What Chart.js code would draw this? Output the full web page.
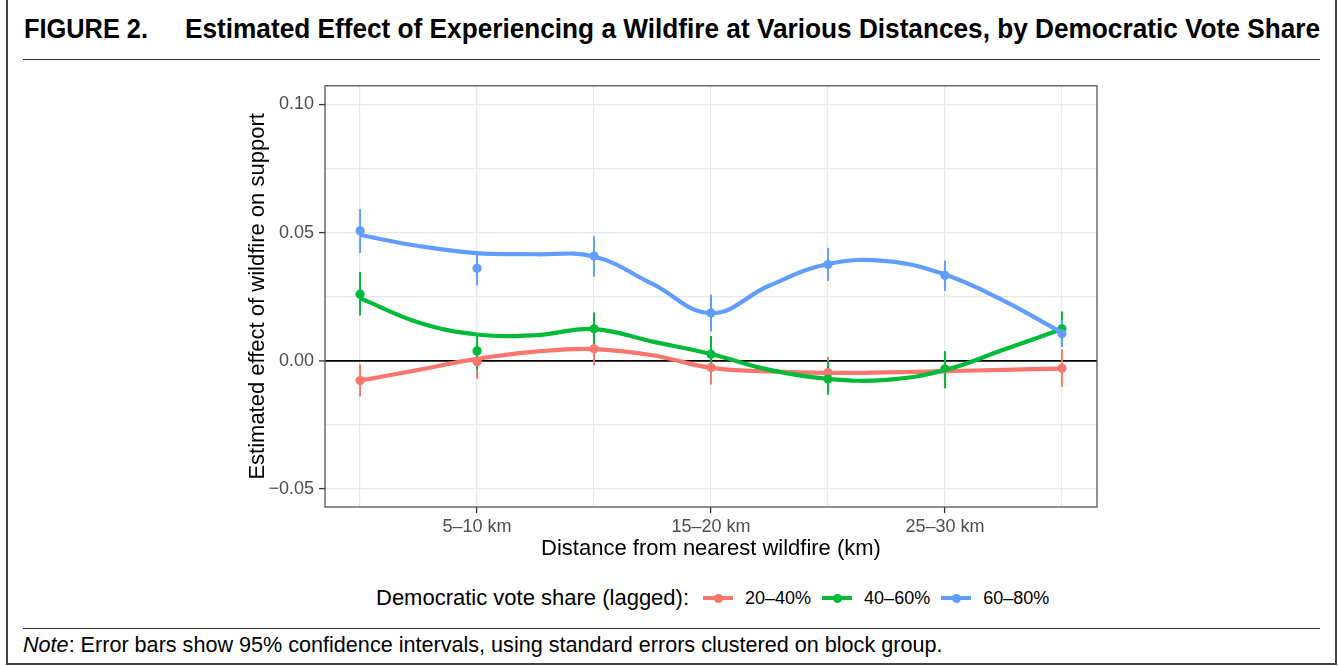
<!DOCTYPE html>
<html>
<head>
<meta charset="utf-8">
<script src="https://cdn.jsdelivr.net/npm/chart.js@4.4.1/dist/chart.umd.min.js"></script>
<style>
html,body{margin:0;padding:0;background:#fff;}
body{width:1340px;height:666px;position:relative;overflow:hidden;font-family:"Liberation Sans",Arial,Helvetica,sans-serif;color:#000;}
#frame{position:absolute;left:6px;top:-6px;width:1331px;height:671px;border:2px solid #444;box-sizing:border-box;}
.rule{position:absolute;left:23px;width:1297px;height:0;border-top:1.6px solid #333;}
.ttl{position:absolute;top:16px;font-weight:bold;font-size:27px;line-height:27px;white-space:nowrap;transform-origin:0 0;}
#chartBox{position:absolute;left:0;top:70px;width:1340px;height:500px;}
#legend{position:absolute;left:376px;top:586px;height:24px;display:flex;align-items:center;white-space:nowrap;}
#legend .lt{font-size:22px;margin-right:14px;}
#legend .key{position:relative;width:30px;height:24px;margin-right:12px;}
#legend .key .bar{position:absolute;left:0;top:10px;width:30px;height:4px;}
#legend .key .dot{position:absolute;left:10.5px;top:7.5px;width:9px;height:9px;border-radius:50%;}
#legend .lab{font-size:18px;margin-right:11px;}
#note{position:absolute;left:23px;top:636px;font-size:19px;line-height:19px;white-space:nowrap;}
</style>
</head>
<body>
<div id="frame"></div>
<div class="ttl" id="t1">FIGURE 2.</div>
<div class="ttl" id="t2">Estimated Effect of Experiencing a Wildfire at Various Distances, by Democratic Vote Share</div>
<div class="rule" style="top:59px"></div>
<div id="chartBox"><canvas id="c"></canvas></div>
<div id="legend"></div>
<div class="rule" style="top:628px"></div>
<div id="note"><i>Note</i>: Error bars show 95% confidence intervals, using standard errors clustered on block group.</div>
<script>
// ---------- data ----------
const xPositions = [1, 2, 3, 4, 5, 6, 7];
const xTickLabels = ['', '5–10 km', '', '15–20 km', '', '25–30 km', ''];
const yMajorTicks = [-0.05, 0, 0.05, 0.10];
const yTickLabels = ['−0.05', '0.00', '0.05', '0.10'];
const yMinorTicks = [-0.025, 0.025, 0.075];

const seriesNames = ['20–40%', '40–60%', '60–80%'];
const seriesColors = ['#F8766D', '#00BA38', '#619CFF'];

// point estimates
const est20_40 = [-0.0077, -0.0003, 0.0047, -0.0026, -0.0046, -0.0031, -0.0029];
const est40_60 = [0.0260, 0.0039, 0.0125, 0.0026, -0.0071, -0.0032, 0.0125];
const est60_80 = [0.0508, 0.0361, 0.0409, 0.0187, 0.0376, 0.0334, 0.0106];
// 95% CI lower / upper
const lo20_40 = [-0.0139, -0.0070, -0.0017, -0.0092, -0.0116, -0.0100, -0.0101];
const hi20_40 = [-0.0014, 0.0065, 0.0110, 0.0039, 0.0016, 0.0036, 0.0045];
const lo40_60 = [0.0177, -0.0035, 0.0063, -0.0045, -0.0132, -0.0107, 0.0058];
const hi40_60 = [0.0347, 0.0100, 0.0189, 0.0097, 0.0000, 0.0038, 0.0193];
const lo60_80 = [0.0421, 0.0294, 0.0329, 0.0115, 0.0312, 0.0273, 0.0054];
const hi60_80 = [0.0592, 0.0419, 0.0486, 0.0258, 0.0441, 0.0392, 0.0159];

// smoothed (loess) curves read at half-steps
const smoothX = [1, 1.5, 2, 2.5, 3, 3.5, 4, 4.5, 5, 5.5, 6, 6.5, 7];
const smooth20_40 = [-0.0077, -0.0035, 0.0008, 0.0036, 0.0046, 0.0022, -0.0027, -0.0041, -0.0047, -0.0045, -0.0040, -0.0035, -0.0030];
const smooth40_60 = [0.0245, 0.0150, 0.0103, 0.0100, 0.0124, 0.0075, 0.0027, -0.0035, -0.0070, -0.0074, -0.0036, 0.0043, 0.0124];
const smooth60_80 = [0.0491, 0.0448, 0.0420, 0.0416, 0.0407, 0.0300, 0.0186, 0.0294, 0.0378, 0.0389, 0.0337, 0.0235, 0.0110];

const estimates = [est20_40, est40_60, est60_80];
const lows = [lo20_40, lo40_60, lo60_80];
const highs = [hi20_40, hi40_60, hi60_80];
const smooths = [smooth20_40, smooth40_60, smooth60_80];

// ---------- titles ----------
function fitX(el, left, right) {
  const w = el.getBoundingClientRect().width;
  el.style.left = left + 'px';
  el.style.transform = 'scaleX(' + ((right - left) / w) + ')';
}
fitX(document.getElementById('t1'), 24, 148);
fitX(document.getElementById('t2'), 185, 1320);
(function () {
  const n = document.getElementById('note');
  const w = n.getBoundingClientRect().width;
  const fs = 19 * 920 / w;
  n.style.fontSize = fs + 'px';
  n.style.lineHeight = fs + 'px';
  n.style.top = (652 - 0.8465 * fs) + 'px';
})();

// ---------- legend ----------
(function () {
  const lg = document.getElementById('legend');
  let h = '<span class="lt">Democratic vote share (lagged):</span>';
  seriesNames.forEach((n, i) => {
    h += '<span class="key"><span class="bar" style="background:' + seriesColors[i] + '"></span><span class="dot" style="background:' + seriesColors[i] + '"></span></span><span class="lab">' + n + '</span>';
  });
  lg.innerHTML = h;
})();

// ---------- chart ----------
const FONT = "'Liberation Sans', Arial, Helvetica, sans-serif";
Chart.defaults.font.family = FONT;

const datasets = [];
// smooth lines (drawn on top)
smooths.forEach((s, i) => {
  datasets.push({
    type: 'line',
    data: smoothX.map((x, k) => ({ x: x, y: s[k] })),
    borderColor: seriesColors[i],
    backgroundColor: seriesColors[i],
    borderWidth: 4.2,
    pointRadius: 0,
    tension: 0.4,
    fill: false,
    order: 3 - i
  });
});
// points
estimates.forEach((e, i) => {
  datasets.push({
    type: 'line',
    showLine: false,
    data: xPositions.map((x, k) => ({ x: x, y: e[k] })),
    borderColor: seriesColors[i],
    backgroundColor: seriesColors[i],
    pointRadius: 4.6,
    pointBorderWidth: 0,
    order: 12 - i
  });
});

const errorBarPlugin = {
  id: 'errorBars',
  beforeDatasetsDraw(chart) {
    const ctx = chart.ctx, xs = chart.scales.x, ys = chart.scales.y;
    ctx.save();
    ctx.lineWidth = 2;
    lows.forEach((lo, i) => {
      ctx.strokeStyle = seriesColors[i];
      xPositions.forEach((x, k) => {
        const px = xs.getPixelForValue(x);
        ctx.beginPath();
        ctx.moveTo(px, ys.getPixelForValue(lo[k]));
        ctx.lineTo(px, ys.getPixelForValue(highs[i][k]));
        ctx.stroke();
      });
    });
    ctx.restore();
  },
  afterDraw(chart) {
    const a = chart.chartArea, ctx = chart.ctx;
    ctx.save();
    ctx.strokeStyle = '#555';
    ctx.lineWidth = 1.3;
    ctx.strokeRect(a.left, a.top, a.right - a.left, a.bottom - a.top);
    ctx.restore();
  }
};

const isMajorY = v => yMajorTicks.some(t => Math.abs(t - v) < 1e-9);

new Chart(document.getElementById('c'), {
  type: 'line',
  data: { datasets: datasets },
  plugins: [errorBarPlugin],
  options: {
    responsive: true,
    maintainAspectRatio: false,
    animation: false,
    events: [],
    layout: { padding: { left: 245, right: 243, top: 12, bottom: 8 } },
    plugins: { legend: { display: false }, tooltip: { enabled: false } },
    scales: {
      x: {
        type: 'linear',
        min: 0.7,
        max: 7.3,
        afterBuildTicks: s => { s.ticks = xPositions.map(v => ({ value: v })); },
        afterFit: s => { s.height = 55; },
        border: { display: false },
        grid: {
          color: '#e8e8e8',
          lineWidth: 1.2,
          tickLength: 6,
          tickColor: c => (xTickLabels[xPositions.indexOf(c.tick.value)] ? '#333' : 'rgba(0,0,0,0)'),
          tickWidth: 1.3
        },
        ticks: {
          autoSkip: false,
          maxRotation: 0,
          padding: 3,
          color: '#4d4d4d',
          font: { size: 18 },
          callback: (v) => xTickLabels[xPositions.indexOf(v)] || ''
        },
        title: {
          display: true,
          text: 'Distance from nearest wildfire (km)',
          color: '#000',
          font: { size: 22 },
          padding: 0
        }
      },
      y: {
        type: 'linear',
        min: -0.057,
        max: 0.1073,
        afterBuildTicks: s => {
          s.ticks = yMajorTicks.concat(yMinorTicks).sort((a, b) => a - b).map(v => ({ value: v }));
        },
        afterFit: s => { s.width = 80; },
        border: { display: false },
        grid: {
          color: c => (Math.abs(c.tick.value) < 1e-9 ? '#000' : '#e8e8e8'),
          lineWidth: c => (Math.abs(c.tick.value) < 1e-9 ? 1.8 : 1.2),
          tickLength: 6,
          tickColor: c => (isMajorY(c.tick.value) ? '#333' : 'rgba(0,0,0,0)'),
          tickWidth: 1.3
        },
        ticks: {
          padding: 5,
          color: '#4d4d4d',
          font: { size: 18 },
          callback: (v) => {
            const i = yMajorTicks.findIndex(t => Math.abs(t - v) < 1e-9);
            return i >= 0 ? yTickLabels[i] : '';
          }
        },
        title: {
          display: true,
          text: 'Estimated effect of wildfire on support',
          color: '#000',
          font: { size: 22 },
          padding: 0
        }
      }
    }
  }
});
</script>
</body>
</html>
